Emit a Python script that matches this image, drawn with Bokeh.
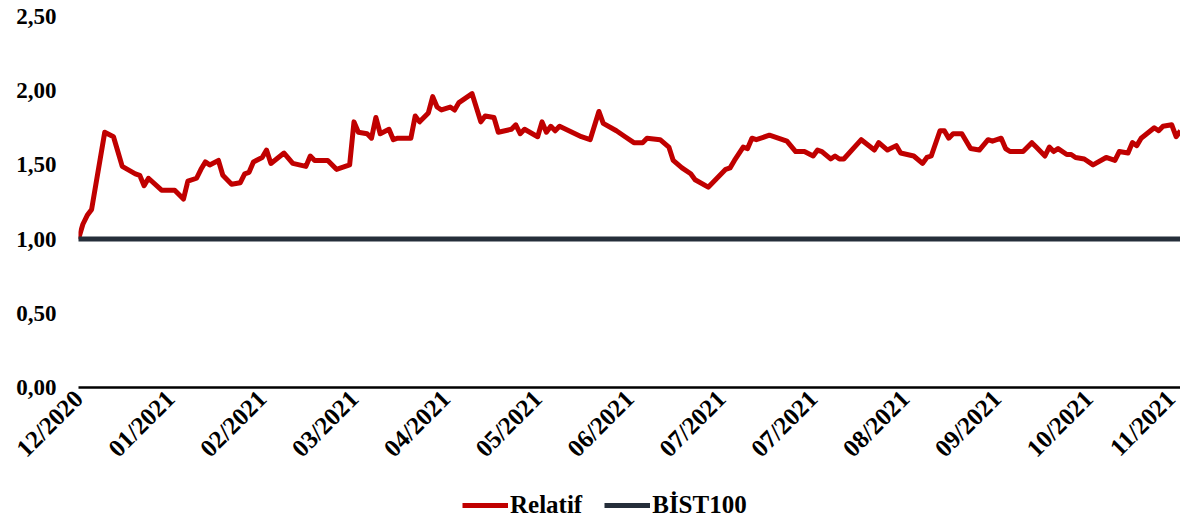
from bokeh.plotting import figure
from bokeh.models import (Range1d, FixedTicker, CustomJSTickFormatter, Legend, LegendItem)
from bokeh.layouts import column
from bokeh.embed import file_html
from bokeh.resources import INLINE
import math

# ---- data (trading-day index, value) ----
tick_labels = ["12/2020", "01/2021", "02/2021", "03/2021", "04/2021", "05/2021",
               "06/2021", "07/2021", "07/2021", "08/2021", "09/2021", "10/2021", "11/2021"]
tick_step = 21

relatif_day = [0, 1, 2, 3, 6, 8, 9, 10, 13, 14, 15, 16, 19, 22, 24, 25, 27, 28, 29, 30,
               32, 33, 35, 37, 38, 39, 40, 42, 43, 44, 47, 49, 52, 53, 54, 57, 59, 62, 63, 64,
               66, 67, 68, 69, 71, 72, 73, 76, 77, 78, 80, 81, 82, 83, 85, 86, 87, 90, 92, 93,
               95, 96, 99, 100, 101, 102, 105, 106, 107, 108, 109, 110, 115, 117, 119, 120, 123, 125, 127, 129,
               130, 133, 135, 136, 138, 140, 141, 144, 146, 148, 149, 150, 152, 153, 154, 155, 158, 162, 164, 166,
               168, 169, 170, 172, 173, 174, 175, 179, 182, 183, 185, 187, 188, 191, 193, 194, 195, 197, 198, 199,
               200, 202, 204, 206, 208, 209, 211, 212, 213, 216, 218, 219, 220, 221, 222, 223, 224, 226, 227, 228,
               230, 232, 235, 236, 237, 238, 240, 241, 242, 243, 246, 247, 248, 250, 251, 252]
relatif_val = [1.00, 1.10, 1.16, 1.20, 1.72, 1.69, 1.59, 1.49, 1.44, 1.43, 1.36, 1.41, 1.33, 1.33, 1.27, 1.39, 1.41, 1.47, 1.52, 1.50,
               1.53, 1.43, 1.37, 1.38, 1.44, 1.45, 1.52, 1.55, 1.60, 1.51, 1.58, 1.51, 1.49, 1.56, 1.53, 1.53, 1.47, 1.50, 1.79, 1.72,
               1.71, 1.68, 1.82, 1.71, 1.74, 1.67, 1.68, 1.68, 1.83, 1.79, 1.85, 1.96, 1.89, 1.87, 1.89, 1.87, 1.92, 1.98, 1.79, 1.83,
               1.82, 1.72, 1.74, 1.77, 1.71, 1.74, 1.69, 1.79, 1.72, 1.76, 1.73, 1.76, 1.69, 1.67, 1.86, 1.78, 1.73, 1.69, 1.65, 1.65,
               1.68, 1.67, 1.62, 1.53, 1.48, 1.44, 1.40, 1.35, 1.41, 1.47, 1.48, 1.53, 1.62, 1.61, 1.68, 1.67, 1.70, 1.66, 1.59, 1.59,
               1.56, 1.60, 1.59, 1.54, 1.56, 1.54, 1.54, 1.67, 1.60, 1.65, 1.60, 1.63, 1.58, 1.56, 1.51, 1.55, 1.56, 1.73, 1.73, 1.68,
               1.71, 1.71, 1.61, 1.60, 1.67, 1.66, 1.68, 1.61, 1.59, 1.59, 1.65, 1.62, 1.59, 1.56, 1.62, 1.59, 1.61, 1.57, 1.57, 1.55,
               1.54, 1.50, 1.55, 1.54, 1.53, 1.59, 1.58, 1.65, 1.63, 1.68, 1.75, 1.73, 1.76, 1.77, 1.69, 1.73]

bist_day = [0, 252]
bist_val = [1.00, 1.00]
series_names = ["Relatif", "BİST100"]

RED = "#C00000"
DARK = "#252E3A"
FONT = "Liberation Serif"

p = figure(width=1180, height=478, output_backend="svg", toolbar_location=None,
           x_range=Range1d(0, 252), y_range=Range1d(0, 2.5),
           min_border_left=78, min_border_right=0, min_border_top=16, min_border_bottom=91)
p.outline_line_color = None
p.xgrid.grid_line_color = None
p.ygrid.grid_line_color = None

r_rel = p.line(relatif_day, relatif_val, line_color=RED, line_width=5, line_join="round")
r_bist = p.line(bist_day, bist_val, line_color=DARK, line_width=5, line_cap="round")

# y axis
p.yaxis.ticker = FixedTicker(ticks=[0, 0.5, 1.0, 1.5, 2.0, 2.5])
p.yaxis.formatter = CustomJSTickFormatter(code="return tick.toFixed(2).replace('.', ',');")
p.yaxis.axis_line_color = None
p.yaxis.major_tick_line_color = None
p.yaxis.minor_tick_line_color = None
p.yaxis.major_tick_out = 0
p.yaxis.major_tick_in = 0
p.yaxis.major_label_standoff = 22
p.yaxis.major_label_text_font = FONT
p.yaxis.major_label_text_font_style = "bold"
p.yaxis.major_label_text_font_size = "23px"
p.yaxis.major_label_text_color = "black"

# x axis
p.xaxis.ticker = FixedTicker(ticks=[i * tick_step for i in range(len(tick_labels))])
p.xaxis.formatter = CustomJSTickFormatter(args=dict(labels=tick_labels, step=tick_step),
                                          code="return labels[Math.round(tick / step)];")
p.xaxis.axis_line_color = "black"
p.xaxis.axis_line_width = 2.5
p.xaxis.major_tick_line_color = None
p.xaxis.minor_tick_line_color = None
p.xaxis.major_tick_out = 0
p.xaxis.major_tick_in = 0
p.xaxis.major_label_standoff = 7
p.xaxis.major_label_orientation = math.pi / 4
p.xaxis.major_label_text_font = FONT
p.xaxis.major_label_text_font_style = "bold"
p.xaxis.major_label_text_font_size = "25px"
p.xaxis.major_label_text_color = "black"

# legend strip below the chart (its frame is aligned with the chart's frame)
q = figure(width=1180, height=43, output_backend="svg", toolbar_location=None,
           x_range=Range1d(0, 1), y_range=Range1d(0, 1),
           min_border_left=0, min_border_right=0, min_border_top=0, min_border_bottom=0)
q.axis.visible = False
q.xgrid.grid_line_color = None
q.ygrid.grid_line_color = None
q.outline_line_color = None
l1 = q.line([5, 6], [5, 5], line_color=RED, line_width=5)
l2 = q.line([5, 6], [5, 5], line_color=DARK, line_width=5)
legend = Legend(items=[LegendItem(label=series_names[0], renderers=[l1]),
                       LegendItem(label=series_names[1], renderers=[l2])],
                orientation="horizontal", location=(384, 2),
                label_text_font=FONT, label_text_font_style="bold",
                label_text_font_size="25px", label_text_color="black",
                glyph_width=46, glyph_height=20, label_standoff=2, spacing=22,
                border_line_color=None, background_fill_alpha=0,
                padding=0, margin=0)
q.add_layout(legend, "center")

open("out.html", "w").write(file_html(column(p, q, spacing=0), INLINE))
